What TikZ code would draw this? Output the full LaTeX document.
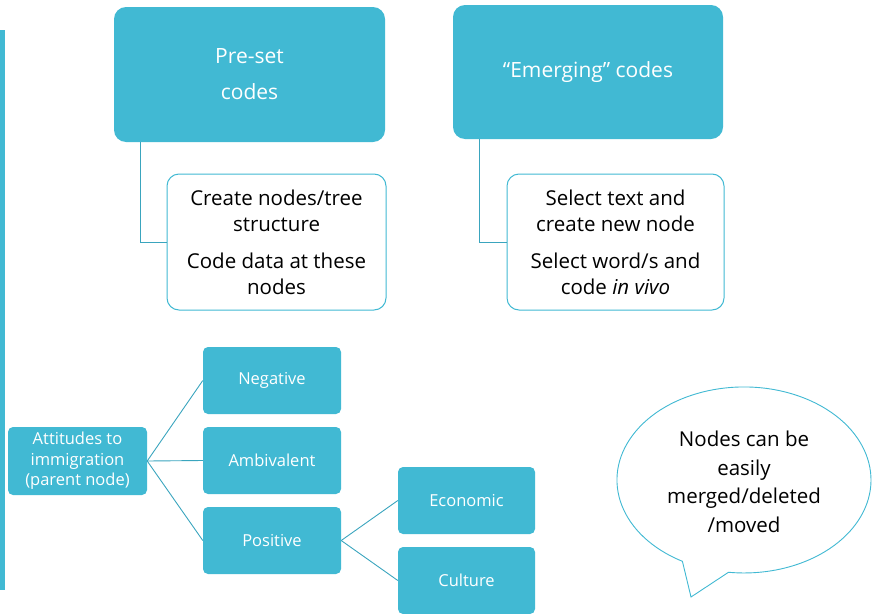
\documentclass[tikz,border=0pt]{standalone}
\usepackage{fontspec}
\setmainfont{Open Sans}
\definecolor{teal}{HTML}{41B9D3}
\definecolor{linec}{HTML}{3AA5BE}
\begin{document}
\begin{tikzpicture}[x=1pt,y=-1pt,
  bigbox/.style={fill=teal,draw=none,rounded corners=12pt,text=white,inner sep=0pt,align=center,font=\fontsize{21}{26}\selectfont},
  subbox/.style={fill=white,draw=teal,line width=1pt,rounded corners=12pt,text=black,inner sep=0pt,align=center,font=\fontsize{20.5}{26}\selectfont},
  smallbox/.style={fill=teal,draw=none,rounded corners=5pt,text=white,inner sep=0pt,align=center,minimum width=138pt,minimum height=67pt,font=\fontsize{16.5}{20.5}\selectfont},
  conn/.style={draw=linec,line width=0.9pt}]
\useasboundingbox (0,0) rectangle (874,613);
\fill[teal] (0,30) rectangle (5,590);
% upper
\node[bigbox,minimum width=271pt,minimum height=135pt] (pre) at (249.5,74.5) {Pre-set\\[10pt]codes};
\node[bigbox,minimum width=270pt,minimum height=134pt] (emg) at (588,72) {“Emerging” codes};
\node[subbox,minimum width=219pt,minimum height=136pt] (sub1) at (276.5,242) {Create nodes/tree\\structure\\[11pt]Code data at these\\nodes};
\node[subbox,minimum width=217pt,minimum height=136pt] (sub2) at (615.5,242) {Select text and\\create new node\\[11pt]Select word/s and\\code \textit{in vivo}};
\draw[conn] ([xshift=27pt]pre.south west) |- (sub1.west);
\draw[conn] ([xshift=27pt]emg.south west) |- (sub2.west);
% tree
\node[smallbox,minimum width=139pt,minimum height=68pt] (att) at (77.5,461) {Attitudes to\\immigration\\(parent node)};
\node[smallbox] (neg) at (272,380.5) {Negative};
\node[smallbox] (amb) at (272,460.5) {Ambivalent};
\node[smallbox] (pos) at (272,540.5) {Positive};
\node[smallbox,minimum width=137pt] (eco) at (466.5,500.5) {Economic};
\node[smallbox,minimum width=137pt] (cul) at (466.5,580.5) {Culture};
\draw[conn] (att.east) -- (neg.west);
\draw[conn] (att.east) -- (amb.west);
\draw[conn] (att.east) -- (pos.west);
\draw[conn] (pos.east) -- (eco.west);
\draw[conn] (pos.east) -- (cul.west);
% bubble
\draw[draw=teal,line width=0.9pt,fill=white] (691,597) -- (682.4,561.3) arc[start angle=119,end angle=457,x radius=127,y radius=93] -- cycle;
\node[align=center,inner sep=0pt,font=\fontsize{20.5}{28.5}\selectfont] (bub) at (744,482) {Nodes can be\\easily\\merged/deleted\\/moved};
\end{tikzpicture}
\end{document}
